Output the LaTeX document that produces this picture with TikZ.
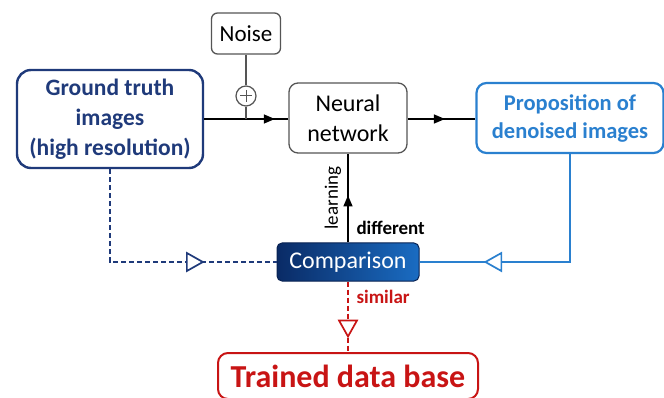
\documentclass[tikz,border=0pt]{standalone}
\usepackage{fontspec}
\setmainfont{Carlito}
\usetikzlibrary{arrows.meta,decorations.markings,calc}
\definecolor{gtblue}{HTML}{1F3A7A}
\definecolor{propblue}{HTML}{2A80CF}
\definecolor{tred}{HTML}{C81414}
\definecolor{graybox}{HTML}{555555}
\definecolor{compL}{HTML}{0A2B66}
\definecolor{compR}{HTML}{1A6CC2}
\tikzset{
  graynode/.style={draw=graybox,line width=1.3pt,rounded corners=6pt,align=center,inner sep=0pt,fill=white},
  gtnode/.style={draw=gtblue,line width=2.4pt,rounded corners=14pt,align=center,inner sep=0pt,text=gtblue,font=\bfseries\fontsize{23.5}{30}\selectfont},
  propnode/.style={draw=propblue,line width=2.2pt,rounded corners=10pt,align=center,inner sep=0pt,text=propblue,font=\bfseries\fontsize{22.5}{28}\selectfont},
  compnode/.style={draw=compL!80!black,line width=1pt,rounded corners=5pt,left color=compL,right color=compR,text=white,inner sep=0pt,font=\fontsize{24}{26}\selectfont},
  tdbnode/.style={draw=tred,line width=2pt,rounded corners=10pt,inner sep=0pt,text=tred,font=\bfseries\fontsize{32}{36}\selectfont},
  conn/.style={line width=1.3pt},
  midarrow/.style={postaction={decorate,decoration={markings,mark=at position #1 with {\arrow{Triangle[length=11pt,width=9pt]}}}}},
  openmid/.style={postaction={decorate,decoration={markings,mark=at position #1 with {\draw[solid,fill=white,line width=1.7pt,line join=miter] (-16pt,-9pt) -- (0pt,0pt) -- (-16pt,9pt) -- cycle;}}}},
}
\begin{document}
\begin{tikzpicture}[x=1pt,y=-1pt]
\useasboundingbox (0,0) rectangle (664,398);
% nodes
\node[graynode,minimum width=69pt,minimum height=41pt,font=\fontsize{23}{26}\selectfont] (noise) at (246,33.5) {Noise};
\node[draw=graybox,line width=1.2pt,circle,minimum size=20pt,inner sep=0pt,fill=white] (plus) at (246,96) {};
\draw[graybox,line width=1pt] ($(plus.center)+(-6,0)$) -- ($(plus.center)+(6,0)$) ($(plus.center)+(0,-6)$) -- ($(plus.center)+(0,6)$);
\node[gtnode,minimum width=186pt,minimum height=98pt] (gt) at (110,119) {Ground truth\\images\\(high resolution)};
\node[graynode,minimum width=118pt,minimum height=70pt,rounded corners=9pt,font=\fontsize{24}{30}\selectfont] (nn) at (348,118) {Neural\\network};
\node[propnode,minimum width=187pt,minimum height=70pt] (prop) at (570,118) {Proposition of\\denoised images};
\node[compnode,minimum width=142pt,minimum height=38pt] (comp) at (348,262) {Comparison};
\node[tdbnode,minimum width=260pt,minimum height=46pt] (tdb) at (348,376) {Trained data base};
\coordinate (join) at (plus.center |- 0,119);
% connectors
\draw[conn,midarrow=0.84] (gt.east |- 0,119) -- (nn.west |- 0,119);
\draw[conn,graybox] (noise.south) -- (plus.north);
\draw[conn,graybox] (plus.south) -- (join);
\draw[conn,midarrow=0.55] (nn.east |- 0,119) -- (prop.west |- 0,119);
\draw[conn,midarrow=0.53] (comp.north) -- node[pos=0.5,left=3pt,rotate=90,anchor=south,font=\fontsize{19}{21}\selectfont] {learning} (nn.south);
\node[font=\bfseries\fontsize{19}{21}\selectfont,anchor=west] (diff) at (353,228) {different};
\draw[gtblue,line width=1.5pt,dash pattern=on 5pt off 3pt,openmid=0.716] (gt.south) |- (comp.west);
\draw[propblue,line width=1.5pt,openmid=0.745] (prop.south) |- (comp.east);
\draw[tred,line width=1.5pt,dash pattern=on 5pt off 3pt,openmid=0.78] (comp.south) -- (tdb.north);
\node[font=\bfseries\fontsize{19}{21}\selectfont,text=tred,anchor=west] (sim) at (353,297) {similar};
\end{tikzpicture}
\end{document}
